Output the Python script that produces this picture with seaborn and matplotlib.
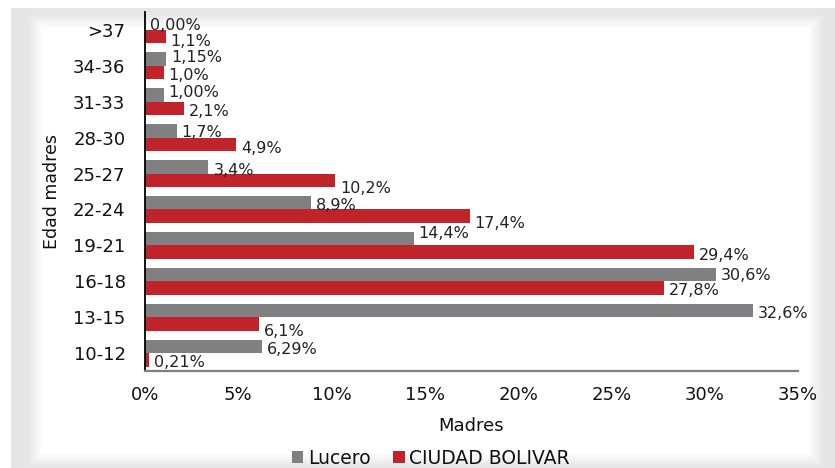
import numpy as np
import pandas as pd
import matplotlib
matplotlib.use("Agg")
import matplotlib.pyplot as plt
import seaborn as sns

# ---- data ----
categories = [">37", "34-36", "31-33", "28-30", "25-27", "22-24", "19-21", "16-18", "13-15", "10-12"]
series = ["Lucero", "CIUDAD BOLIVAR"]
lucero = [0.00, 1.15, 1.00, 1.7, 3.4, 8.9, 14.4, 30.6, 32.6, 6.29]
bolivar = [1.1, 1.0, 2.1, 4.9, 10.2, 17.4, 29.4, 27.8, 6.1, 0.21]
lucero_labels = ["0,00%", "1,15%", "1,00%", "1,7%", "3,4%", "8,9%", "14,4%", "30,6%", "32,6%", "6,29%"]
bolivar_labels = ["1,1%", "1,0%", "2,1%", "4,9%", "10,2%", "17,4%", "29,4%", "27,8%", "6,1%", "0,21%"]
xticks = [0, 5, 10, 15, 20, 25, 30, 35]

# label vertical nudges (pixels, positive = down), as placed in the original
lucero_nudge = [2, -2, -3, 2, 4, 3, -5, 1, 3, 3]
bolivar_nudge = [5, 3, 3, 4, 8, 7, 3, 3, 8, 3]

df = pd.DataFrame({
    "Edad": categories * 2,
    "Serie": [series[0]] * len(categories) + [series[1]] * len(categories),
    "Valor": lucero + bolivar,
})

sns.set_theme(style="white")
plt.rcParams["font.family"] = ["DejaVu Sans"]

W, H = 835, 468
fig = plt.figure(figsize=(W / 100, H / 100), dpi=100)
fig.patch.set_facecolor("white")

# background frame (gray border with soft white panel)
yy, xx = np.mgrid[0:H, 0:W].astype(float)
gray = 0.905
t = np.minimum.reduce([xx - 28, 822 - xx, yy - 14, 466 - yy]) / 14.0
t = np.clip(t, 0, 1)
val = gray + (1 - gray) * t
outside = (xx < 11) | (yy < 8)
val[outside] = 1.0
img = np.dstack([val, val, val])
fig.figimage(img, xo=0, yo=0, origin="upper", zorder=-5)

left, right, top, bottom = 145, 798, 12, 371
ax = fig.add_axes([left / W, 1 - bottom / H, (right - left) / W, (bottom - top) / H])
ax.set_facecolor("none")

palette = {"Lucero": "#808083", "CIUDAD BOLIVAR": "#C0232A"}
sns.barplot(data=df, x="Valor", y="Edad", hue="Serie", order=categories,
            hue_order=series, palette=palette, orient="h", width=0.75,
            saturation=1, ax=ax, linewidth=0)

ax.set_xlim(0, 35)
ax.set_xticks(xticks)
ax.set_xticklabels([f"{v}%" for v in xticks])
ax.tick_params(axis="x", length=0, pad=11, labelsize=13, labelcolor="#111111")
ax.tick_params(axis="y", length=0, pad=14, labelsize=13, labelcolor="#111111")

for s in ["top", "right"]:
    ax.spines[s].set_visible(False)
ax.spines["left"].set_color("#000000")
ax.spines["left"].set_linewidth(1.3)
ax.spines["bottom"].set_color("#7f7f7f")
ax.spines["bottom"].set_linewidth(1.6)

ax.set_xlabel("Madres", fontsize=13, color="#111111")
ax.xaxis.set_label_coords(0.5, -0.128)
ax.set_ylabel("Edad madres", fontsize=12.5, color="#111111")
ax.yaxis.set_label_coords(-0.128, 0.5)

for cont, labs, nudges in zip(ax.containers, [lucero_labels, bolivar_labels],
                              [lucero_nudge, bolivar_nudge]):
    anns = ax.bar_label(cont, labels=labs, padding=3.6, fontsize=11.5, color="#222222")
    for a, n in zip(anns, nudges):
        a.xyann = (3.6, -n * 0.72)

handles, labels = ax.get_legend_handles_labels()
if ax.get_legend() is not None:
    ax.get_legend().remove()
fig.legend(handles, labels, loc="center", bbox_to_anchor=(431 / W, 1 - 458 / H),
           ncol=2, frameon=False, fontsize=13.5, handlelength=0.6, handleheight=0.6,
           handletextpad=0.25, columnspacing=1.2, borderpad=0, labelcolor="#111111")

fig.savefig("out.png", dpi=100)
